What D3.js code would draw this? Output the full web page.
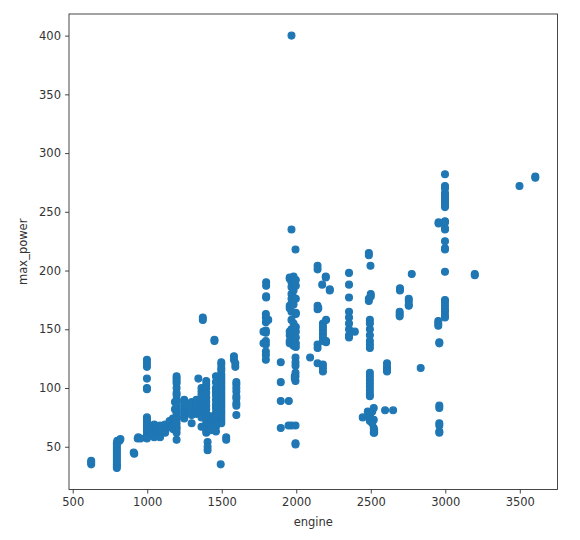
<!DOCTYPE html>
<html>
<head>
<meta charset="utf-8">
<script src="https://cdn.jsdelivr.net/npm/d3@7"></script>
<style>
  html, body { margin: 0; padding: 0; background: #fff; }
  svg { display: block; font-family: "DejaVu Sans", sans-serif; }
</style>
</head>
<body>
<div id="chart"></div>
<script>
// engine displacement (cc) and max power (bhp)
const engine = [
  624, 624, 624,
  796, 796, 796, 796, 796, 796, 796, 796, 796, 796, 796, 796, 799, 814, 820,
  909, 913, 936, 940, 955,
  998, 998, 998, 998, 998, 998, 998, 998, 998, 998, 998, 998, 998, 998, 998, 998, 998,
  1047, 1047, 1047, 1047, 1047, 1061, 1061, 1061, 1086, 1086, 1086, 1120, 1120, 1120, 1120, 1150,
  1172, 1172, 1172, 1172, 1172, 1186, 1186, 1186,
  1197, 1197, 1197, 1197, 1197, 1197, 1197, 1197, 1197, 1197, 1197, 1197, 1197, 1197, 1197, 1197, 1197, 1197, 1197, 1197,
  1248, 1248, 1248, 1248, 1248, 1248, 1248,
  1298, 1298, 1298, 1298, 1298, 1298,
  1330, 1330, 1330, 1330, 1330, 1343,
  1364, 1364, 1364, 1364, 1364, 1364, 1364, 1364, 1364, 1364,
  1373, 1373,
  1396, 1396, 1396, 1396, 1396, 1396, 1396, 1396, 1396, 1396, 1396, 1396, 1396, 1396,
  1405, 1405, 1405,
  1425, 1425, 1425, 1425, 1425,
  1451, 1451,
  1461, 1461, 1461, 1461, 1461, 1461, 1461, 1461, 1461, 1461, 1461, 1461, 1461,
  1493,
  1497, 1497, 1497, 1497, 1497, 1497, 1497, 1497, 1497, 1497, 1497, 1497, 1497, 1497, 1497, 1497, 1497, 1497, 1497, 1497, 1497, 1497, 1497, 1497, 1497, 1497,
  1530, 1530,
  1582, 1582, 1591, 1591,
  1598, 1598, 1598, 1598, 1598, 1598, 1598, 1598, 1598,
  1796, 1796, 1796, 1796, 1796, 1796, 1796, 1796, 1796, 1796,
  1798, 1798, 1798, 1798, 1780, 1780, 1812,
  1896, 1896, 1896, 1896, 1950, 1948, 1968, 1995, 1995, 1995,
  1968, 1968, 1995,
  1956, 1956, 1956, 1956, 1956, 1956, 1956, 1956,
  1968, 1968, 1968, 1968, 1968, 1968, 1968, 1968, 1968, 1968,
  1982, 1982, 1982, 1982, 1982, 1982, 1982, 1982, 1982, 1982,
  1997, 1997, 1997, 1997, 1997, 1997, 1997, 1997, 1997, 1997,
  1995, 1995, 1995, 1995, 1995, 1995, 1990, 1990,
  2093,
  2143, 2143, 2143, 2143, 2143, 2143, 2143,
  2179, 2179, 2179, 2179, 2179, 2179, 2179, 2179, 2179,
  2174, 2198, 2198, 2200, 2200, 2200, 2225, 2225, 2148,
  2354, 2354, 2354, 2354, 2354, 2354, 2354, 2354, 2354,
  2393, 2446,
  2487, 2487, 2498, 2487, 2487, 2500, 2500,
  2494, 2494, 2494, 2494, 2494, 2494, 2494,
  2494, 2494, 2494, 2494, 2494, 2494, 2494, 2494,
  2480, 2494, 2494, 2494, 2494, 2520, 2520, 2520, 2520, 2510, 2510, 2523, 2523,
  2596, 2650,
  2609, 2609, 2609, 2609,
  2696, 2696, 2694, 2694, 2694,
  2755, 2755, 2755, 2755, 2775,
  2835,
  2953, 2953, 2953, 2960, 2960,
  2960, 2960, 2960, 2960, 2960, 2960,
  2998, 2998, 2998, 2998, 2998, 2998, 2998, 2998, 2998, 2998, 2998, 2998, 2998, 2998, 2998, 2998, 2998, 2998, 2998, 2998, 2998, 2998, 2998, 2998, 2998,
  2955, 2955,
  3198, 3198,
  3498,
  3604, 3604
];

const maxPower = [
  35, 36.5, 38,
  32, 33.5, 35, 37, 39, 41, 43, 45, 47, 49, 51, 53, 55, 55, 56.5,
  45, 44, 57, 58, 57,
  124, 121, 118, 108, 100, 99, 75, 73, 71, 69, 67, 65, 63, 61, 59, 58, 57,
  67, 69, 65, 62, 58, 67, 63, 60, 68, 62, 58, 69, 67, 64, 62, 72,
  74, 72, 69, 67, 65, 88, 82, 74,
  110, 108, 106, 104, 100, 96, 94, 90, 88, 85, 82, 80, 78, 75, 73, 70, 67, 65, 62, 56,
  90, 88, 85, 82, 79, 76, 74,
  88, 86, 83, 80, 77, 70,
  90, 86, 83, 80, 78, 108,
  100, 97, 94, 90, 87, 84, 80, 78, 75, 67,
  160, 158,
  106, 103, 100, 96, 92, 88, 85, 82, 78, 74, 71, 68, 64, 62,
  54, 50, 47,
  76, 73, 70, 67, 64,
  141, 140,
  110, 105, 100, 97, 94, 90, 86, 83, 79, 75, 70, 67, 63,
  35,
  122, 120, 117, 115, 112, 110, 108, 106, 104, 102, 100, 98, 96, 94, 92, 90, 88, 86, 84, 82, 80, 78, 76, 74, 72, 70,
  58, 56,
  127, 124, 121, 118,
  105, 103, 100, 97, 93, 91, 87, 85, 77,
  163, 160, 156, 149, 147, 140, 137, 131, 128, 124,
  190, 187, 178, 177, 148, 138, 158,
  122, 105, 89, 66, 89, 68, 68, 68, 52, 53,
  400, 235, 218,
  194, 193, 170, 168, 148, 145, 140, 138,
  190, 186, 180, 176, 172, 165, 158, 150, 147, 143,
  195, 189, 183, 177, 171, 155, 150, 145, 140, 136,
  192, 187, 176, 164, 163, 152, 148, 143, 138, 135,
  126, 122, 119, 113, 110, 106, 108, 110,
  126,
  204, 201, 170, 167, 137, 134, 121,
  155, 152, 149, 146, 143, 140, 120, 117, 114,
  188, 195, 194, 158, 140, 139, 184, 183, 168,
  198, 188, 177, 165, 160, 155, 150, 145, 143,
  148, 75,
  215, 213, 204, 176, 174, 180, 178,
  158, 155, 150, 145, 140, 137, 134,
  113, 110, 107, 104, 101, 98, 95, 93,
  80, 78, 76, 74, 72, 83, 73, 66, 62, 80, 70, 64, 62,
  81, 81,
  121, 118, 116, 114,
  185, 183, 165, 163, 161,
  176, 174, 171, 170, 197,
  117,
  157, 155, 153, 139, 138,
  85, 83, 70, 68, 63, 62,
  282, 272, 270, 266, 264, 262, 260, 258, 256, 254, 242, 241, 236, 235, 225, 219, 218, 199, 175, 173, 170, 167, 165, 162, 160,
  241, 240,
  197, 196,
  272,
  280, 279
];

const xTicks = [500, 1000, 1500, 2000, 2500, 3000, 3500];
const yTicks = [50, 100, 150, 200, 250, 300, 350, 400];
const xTitle = "engine";
const yTitle = "max_power";

const W = 580, H = 540;
const margin = { left: 69, right: 22.5, top: 14, bottom: 50.5 };
const iw = W - margin.left - margin.right;
const ih = H - margin.top - margin.bottom;

const points = engine.map((e, i) => ({ e, p: maxPower[i] }));

// matplotlib-style 5% padding around data extent
function padded(ext) {
  const d = ext[1] - ext[0];
  return [ext[0] - 0.05 * d, ext[1] + 0.05 * d];
}

const x = d3.scaleLinear().domain(padded(d3.extent(engine))).range([0, iw]);
const y = d3.scaleLinear().domain(padded(d3.extent(maxPower))).range([ih, 0]);

const svg = d3.select("#chart").append("svg")
  .attr("width", W).attr("height", H);

const g = svg.append("g").attr("transform", `translate(${margin.left},${margin.top})`);

g.append("g").selectAll("circle")
  .data(points)
  .join("circle")
  .attr("cx", d => x(d.e))
  .attr("cy", d => y(d.p))
  .attr("r", 3.45)
  .attr("fill", "#1f77b4")
  .attr("stroke", "#1f77b4")
  .attr("stroke-width", 1.15);

const xAxis = g.append("g")
  .attr("transform", `translate(0,${ih})`)
  .call(d3.axisBottom(x).tickValues(xTicks).tickFormat(d3.format("d")).tickSize(4).tickPadding(4));
const yAxis = g.append("g")
  .call(d3.axisLeft(y).tickValues(yTicks).tickFormat(d3.format("d")).tickSize(4).tickPadding(4));

[xAxis, yAxis].forEach(a => {
  a.select(".domain").remove();
  a.selectAll(".tick line").attr("stroke", "#333").attr("stroke-width", 0.9);
  a.selectAll(".tick text").attr("fill", "#333").style("font-size", "11.5px")
    .style("font-family", "'DejaVu Sans', sans-serif");
});

g.append("rect")
  .attr("x", 0).attr("y", 0).attr("width", iw).attr("height", ih)
  .attr("fill", "none").attr("stroke", "#333").attr("stroke-width", 0.9);

svg.append("text")
  .attr("x", margin.left + iw / 2)
  .attr("y", 526)
  .attr("text-anchor", "middle")
  .attr("fill", "#333")
  .style("font-size", "11.5px")
  .text(xTitle);

svg.append("text")
  .attr("transform", `translate(27,${margin.top + ih / 2}) rotate(-90)`)
  .attr("text-anchor", "middle")
  .attr("fill", "#333")
  .style("font-size", "11.5px")
  .text(yTitle);
</script>
</body>
</html>
